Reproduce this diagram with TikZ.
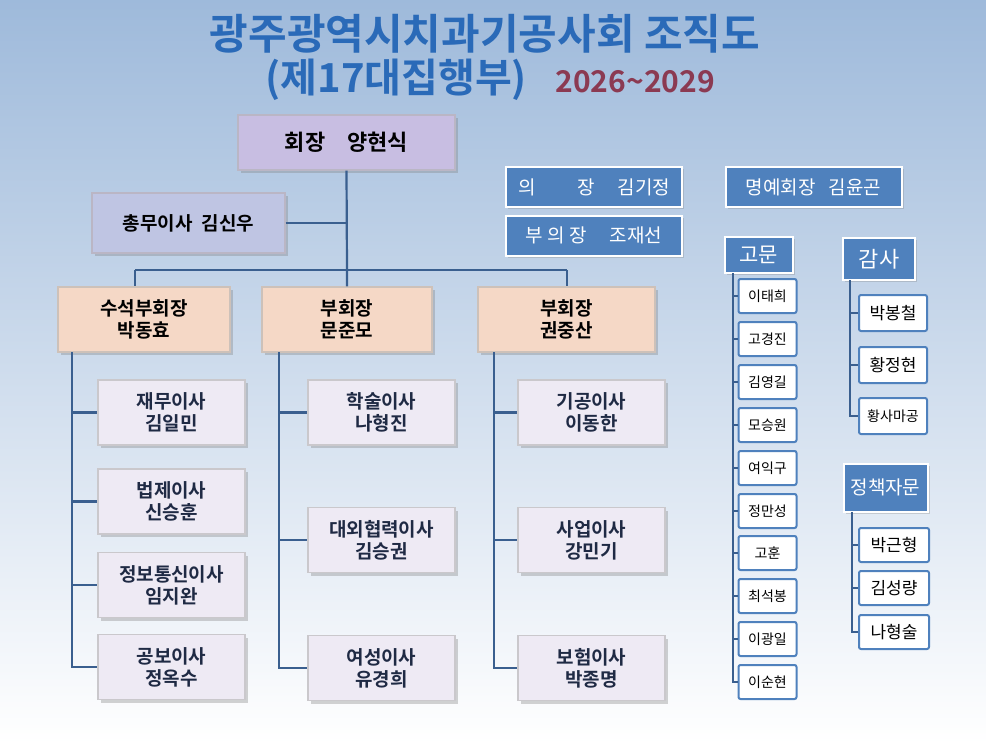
\documentclass[tikz,border=0pt]{standalone}
\usepackage{fontspec}
\setmainfont{Noto Sans CJK KR}[BoldFont={Noto Sans CJK KR Bold}]
\usetikzlibrary{shadows}
\definecolor{ttl}{HTML}{2A6AB8}
\definecolor{yr}{HTML}{8B3A52}
\definecolor{navy}{HTML}{1F2A44}
\definecolor{ln}{HTML}{3A5F8F}
\definecolor{bb}{HTML}{4F81BD}
\definecolor{lav}{HTML}{C8BEE2}
\definecolor{pch}{HTML}{F5D8C6}
\definecolor{chd}{HTML}{EEEAF4}
\begin{document}
\begin{tikzpicture}[x=1pt,y=-1pt,
  box/.style={draw=#1!70!black!60,line width=1.2pt,minimum width=0,inner sep=0,align=center,font=\bfseries\fontsize{19}{22}\selectfont,text=black,drop shadow={shadow xshift=3pt,shadow yshift=-3pt,opacity=.35}},
  blue/.style={fill=bb,draw=white,line width=2pt,text=white,font=\fontsize{19}{22}\selectfont,inner sep=0,drop shadow={shadow xshift=2pt,shadow yshift=-2pt,opacity=.3}},
  wb/.style={fill=white,draw=bb,line width=2pt,rounded corners=2pt,text=black,font=\fontsize{14}{16}\selectfont,inner sep=0},
  con/.style={draw=ln,line width=2.2pt}]
\useasboundingbox (0,0) rectangle (986,744);
\shade[top color=bb!55,bottom color=white] (0,0) rectangle (986,744);
% title
\node[text=ttl,font=\bfseries\fontsize{42}{44}\selectfont] (t1) at (485,34) {광주광역시치과기공사회 조직도};
\node[text=ttl,font=\bfseries\fontsize{40}{44}\selectfont,anchor=west] (t2) at (262,80) {(제17대집행부)};
\node[text=yr,font=\bfseries\fontsize{30}{32}\selectfont,anchor=west] (t3) at (552,82) {2026\textasciitilde2029};
% top
\node[box=lav,fill=lav,minimum width=217,minimum height=55,font=\bfseries\fontsize{22}{24}\selectfont] (pres) at (346.5,142.5) {회장\quad 양현식};
\node[box=lav,fill=lav!70!bb!70,minimum width=193,minimum height=60] (sec) at (188.5,223) {총무이사\enspace 김신우};
\node[blue,minimum width=176,minimum height=40] (ch) at (594,187) {의\hspace{2.2em}장\hspace{1.2em}김기정};
\node[blue,minimum width=176,minimum height=40] (vch) at (594,235.5) {부 의 장\hspace{1.2em}조재선};
\node[blue,minimum width=176,minimum height=40] (hon) at (813.5,187) {명예회장\hspace{0.7em}김윤곤};
% vice presidents
\node[box=pch,fill=pch,minimum width=172,minimum height=65] (v1) at (144,319.5) {수석부회장\\박동효};
\node[box=pch,fill=pch,minimum width=170,minimum height=65] (v2) at (347,319.5) {부회장\\문준모};
\node[box=pch,fill=pch,minimum width=177,minimum height=65] (v3) at (566.5,319.5) {부회장\\권중산};
\coordinate (j) at (347,270);
\coordinate (j1) at (135,270); \coordinate (j3) at (567,270);
\draw[con] (pres.south) -- (j) -- (v2.north);
\draw[con] (j1) -- (j3);
\draw[con] (j1) -- (j1|-v1.north);
\draw[con] (j3) -- (j3|-v3.north);
\draw[con] (sec.east) -- (sec.east-|j);
% children
\foreach \n/\x/\y/\t in {a1/171.5/412.5/{재무이사\\김일민},a2/171.5/501.5/{법제이사\\신승훈},a3/171.5/585/{정보통신이사\\임지완},a4/171.5/667/{공보이사\\정옥수},
  b1/381.5/412.5/{학술이사\\나형진},b2/381.5/540/{대외협력이사\\김승권},b3/381.5/668/{여성이사\\유경희},
  c1/591.5/412.5/{기공이사\\이동한},c2/591.5/540/{사업이사\\강민기},c3/591.5/668/{보험이사\\박종명}}
  \node[box=chd,fill=chd,text=navy,minimum width=147,minimum height=65] (\n) at (\x,\y) {\t};
\coordinate (sa) at (72,352); \coordinate (sb) at (279,352); \coordinate (sc) at (494,352);
\draw[con] (sa) -- (sa|-a4.west) -- (a4.west);
\foreach \n in {a1,a2,a3} \draw[con] (sa|-\n.west) -- (\n.west);
\draw[con] (sb) -- (sb|-b3.west) -- (b3.west);
\foreach \n in {b1,b2} \draw[con] (sb|-\n.west) -- (\n.west);
\draw[con] (sc) -- (sc|-c3.west) -- (c3.west);
\foreach \n in {c1,c2} \draw[con] (sc|-\n.west) -- (\n.west);
% advisers
\node[blue,minimum width=68,minimum height=36,font=\fontsize{21}{22}\selectfont] (g) at (758.5,255) {고문};
\coordinate (gs) at (733,273);
\foreach \i/\y/\t in {1/296/이태희,2/339/고경진,3/382/김영길,4/425/모승원,5/468/여익구,6/511/정만성,7/553/고훈,8/596/최석봉,9/639/이광일,10/682/이순현}
  \node[wb,minimum width=58,minimum height=34] (g\i) at (767.5,\y) {\t};
\draw[con,line width=2pt] (gs) -- (gs|-g10.west) -- (g10.west);
\foreach \i in {1,...,9} \draw[con,line width=2pt] (gs|-g\i.west) -- (g\i.west);
\node[blue,minimum width=72,minimum height=42,font=\fontsize{22}{24}\selectfont] (k) at (879,259) {감사};
\coordinate (ks) at (850,280);
\foreach \i/\y/\t/\f in {1/313/박봉철/17,2/365/황정현/17,3/416/황사마공/14}
  \node[wb,minimum width=68,minimum height=36,font=\fontsize{\f}{19}\selectfont] (k\i) at (893,\y) {\t};
\draw[con,line width=2pt] (ks) -- (ks|-k3.west) -- (k3.west);
\foreach \i in {1,2} \draw[con,line width=2pt] (ks|-k\i.west) -- (k\i.west);
\node[blue,minimum width=84,minimum height=48,font=\fontsize{19}{20}\selectfont] (p) at (885.5,487.5) {정책자문};
\coordinate (ps) at (852,512);
\foreach \i/\y/\t in {1/545/박근형,2/588/김성량,3/632/나형술}
  \node[wb,minimum width=70,minimum height=34,font=\fontsize{17}{19}\selectfont] (p\i) at (894,\y) {\t};
\draw[con,line width=2pt] (ps) -- (ps|-p3.west) -- (p3.west);
\foreach \i in {1,2} \draw[con,line width=2pt] (ps|-p\i.west) -- (p\i.west);
\end{tikzpicture}
\end{document}
